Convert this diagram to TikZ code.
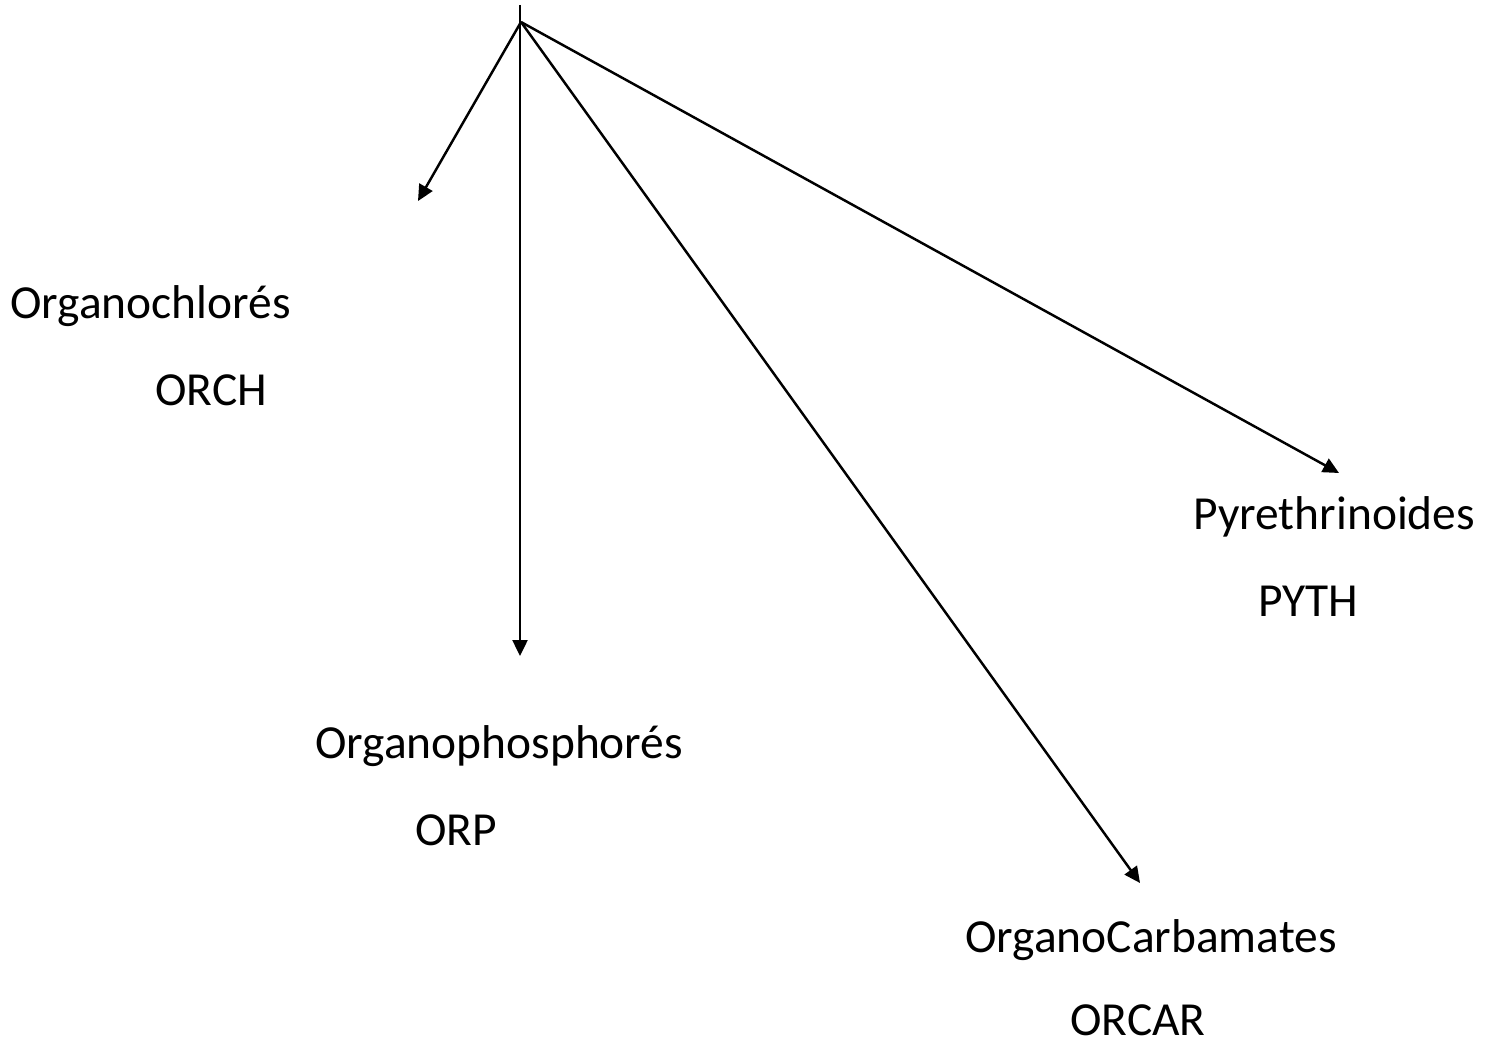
\documentclass[tikz,border=0pt]{standalone}
\usepackage{fontspec}
\setmainfont{Carlito}
\usetikzlibrary{arrows.meta}
\begin{document}
\begin{tikzpicture}[x=0.02cm, y=-0.02cm]
        % Define styles
        \tikzstyle{classe} = [inner sep=0pt, anchor=base west, font=\fontsize{27}{32}\selectfont]
        \tikzstyle{arrow} = [-{Triangle[length=0.32cm, width=0.3cm]}, line width=1.4pt]

        \useasboundingbox (0,0) rectangle (1494,1044);

        % Source and arrow ends
        \coordinate (top) at (520,5);
        \coordinate (fork) at (521,22);
        \coordinate (endOrch) at (418,201);
        \coordinate (endOrp) at (520,656);
        \coordinate (endOrcar) at (1140,883);
        \coordinate (endPyth) at (1339,473);

        % Class labels
        \node[classe] (orch) at (10,318) {Organochlorés};
        \node[classe] (orchAbbr) at (155,405) {ORCH};
        \node[classe] (orp) at (315,758) {Organophosphorés};
        \node[classe] (orpAbbr) at (415,845) {ORP};
        \node[classe] (orcar) at (965,952) {OrganoCarbamates};
        \node[classe] (orcarAbbr) at (1070,1035) {ORCAR};
        \node[classe] (pyth) at (1193,529) {Pyrethrinoides};
        \node[classe] (pythAbbr) at (1258,616) {PYTH};

        % Arrows
        \draw[arrow] (top) -- (endOrp);
        \draw[arrow] (fork) -- (endOrch);
        \draw[arrow] (fork) -- (endOrcar);
        \draw[arrow] (fork) -- (endPyth);
\end{tikzpicture}
\end{document}
